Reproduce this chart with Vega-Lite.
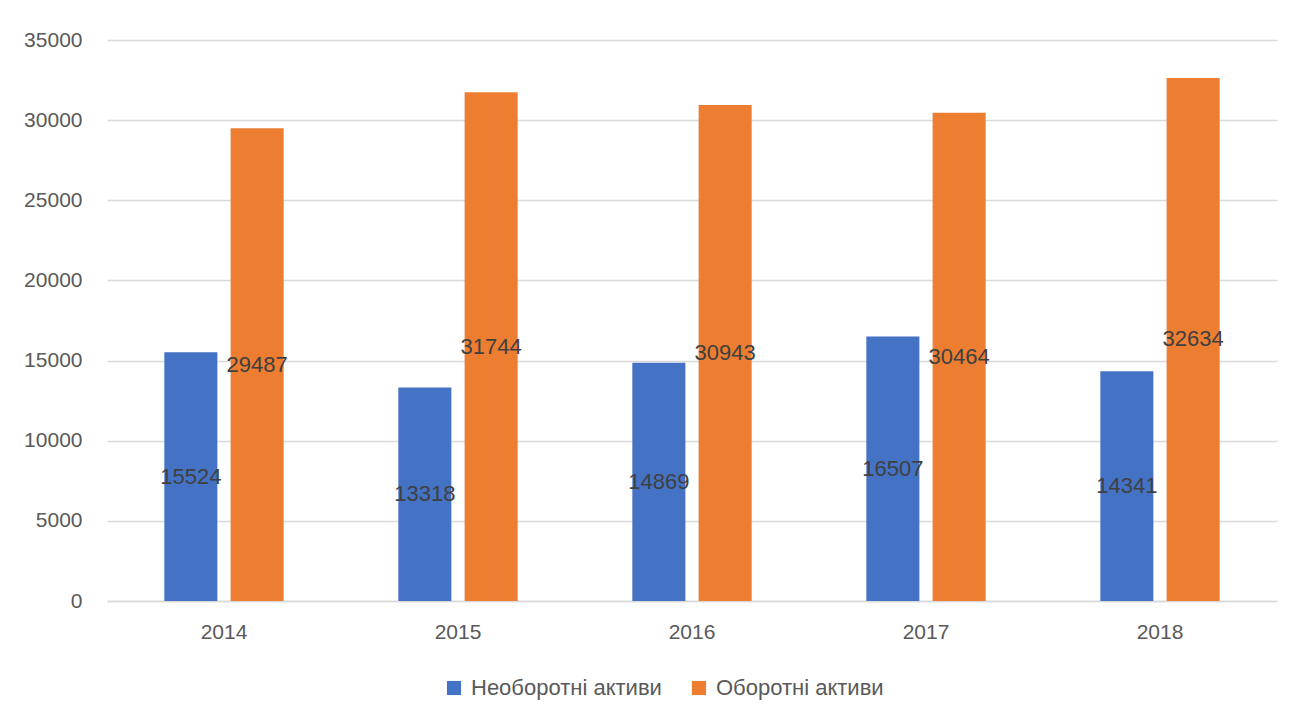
{
  "$schema": "https://vega.github.io/schema/vega-lite/v6.json",
  "width": 1170,
  "height": 561,
  "autosize": {"type": "none"},
  "padding": {"left": 107, "top": 40, "right": 30, "bottom": 116},
  "background": "white",
  "config": {
    "font": "Liberation Sans",
    "view": {"stroke": null},
    "axis": {"labelFont": "Liberation Sans", "labelColor": "#595959", "labelFontSize": 21}
  },
  "data": {
    "values": [
      {"year": "2014", "series": "Необоротні активи", "value": 15524},
      {"year": "2014", "series": "Оборотні активи", "value": 29487},
      {"year": "2015", "series": "Необоротні активи", "value": 13318},
      {"year": "2015", "series": "Оборотні активи", "value": 31744},
      {"year": "2016", "series": "Необоротні активи", "value": 14869},
      {"year": "2016", "series": "Оборотні активи", "value": 30943},
      {"year": "2017", "series": "Необоротні активи", "value": 16507},
      {"year": "2017", "series": "Оборотні активи", "value": 30464},
      {"year": "2018", "series": "Необоротні активи", "value": 14341},
      {"year": "2018", "series": "Оборотні активи", "value": 32634}
    ]
  },
  "encoding": {
    "x": {
      "field": "year", "type": "nominal",
      "scale": {"paddingInner": 0.49, "paddingOuter": 0.245},
      "axis": {"title": null, "labelAngle": 0, "ticks": false, "domainColor": "#d9d9d9", "domainWidth": 1.5, "labelPadding": 20, "grid": false}
    },
    "xOffset": {
      "field": "series", "type": "nominal",
      "scale": {"paddingInner": 0.2, "paddingOuter": 0}
    }
  },
  "layer": [
    {
      "mark": {"type": "bar"},
      "encoding": {
        "y": {
          "field": "value", "type": "quantitative",
          "scale": {"domain": [0, 35000], "nice": false},
          "axis": {"title": null, "values": [0, 5000, 10000, 15000, 20000, 25000, 30000, 35000], "domain": false, "ticks": false, "labelPadding": 25, "gridColor": "#d9d9d9", "gridWidth": 1.5, "format": "d"}
        },
        "color": {
          "field": "series", "type": "nominal",
          "scale": {"domain": ["Необоротні активи", "Оборотні активи"], "range": ["#4472C4", "#ED7D31"]},
          "legend": {
            "title": null, "orient": "none", "direction": "horizontal",
            "legendX": 336, "legendY": 637,
            "symbolType": "square", "symbolSize": 200, "symbolStrokeWidth": 0,
            "labelFontSize": 22, "labelColor": "#595959", "labelFont": "Liberation Sans",
            "labelLimit": 0, "columnPadding": 26, "labelOffset": 6
          }
        }
      }
    },
    {
      "mark": {"type": "text", "fontSize": 22, "color": "#404040", "baseline": "middle", "align": "center"},
      "encoding": {
        "y": {
          "field": "value", "type": "quantitative",
          "scale": {"domain": [0, 70000], "nice": false},
          "axis": null
        },
        "text": {"field": "value", "type": "quantitative", "format": "d"}
      }
    }
  ],
  "resolve": {"scale": {"y": "independent"}}
}
